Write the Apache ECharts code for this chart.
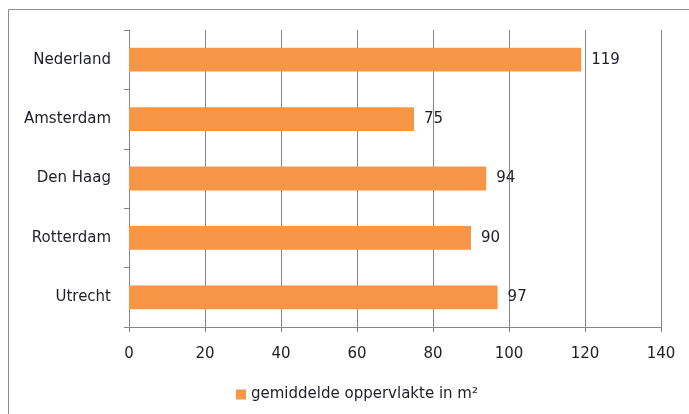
<!DOCTYPE html>
<html><head><meta charset="utf-8">
<script src="https://cdn.jsdelivr.net/npm/echarts@6/dist/echarts.min.js"></script>
<style>html,body{margin:0;padding:0;background:#fff}#c{width:689px;height:414px}</style>
</head><body><div id="c"></div>
<script>
const categories = ['Nederland', 'Amsterdam', 'Den Haag', 'Rotterdam', 'Utrecht'];
const values = [119, 75, 94, 90, 97];
const seriesName = 'gemiddelde oppervlakte in m²';
const xTicks = { min: 0, max: 140, interval: 20 };

const font = 'DejaVu Sans';
const chart = echarts.init(document.getElementById('c'), null, { renderer: 'canvas' });
chart.setOption({
  animation: false,
  backgroundColor: '#fff',
  textStyle: { fontFamily: font },
  graphic: [{
    type: 'rect', shape: { x: 8.5, y: 9.5, width: 700, height: 420 },
    style: { fill: 'none', stroke: '#8c8c8c', lineWidth: 1 }, silent: true
  }],
  grid: { left: 129, right: 28, top: 30, bottom: 87, containLabel: false },
  legend: {
    data: [seriesName], top: 382, left: 231, itemWidth: 10, itemHeight: 10, itemGap: 7,
    icon: 'rect',
    textStyle: { fontFamily: font, fontSize: 15, color: '#1e1e28' }
  },
  xAxis: {
    type: 'value', min: xTicks.min, max: xTicks.max, interval: xTicks.interval,
    axisLine: { show: true, lineStyle: { color: '#868686', width: 1 } },
    axisTick: { show: true, length: 5, lineStyle: { color: '#868686' } },
    splitLine: { show: true, lineStyle: { color: '#868686', width: 1 } },
    axisLabel: { fontFamily: font, fontSize: 15, color: '#1e1e28', margin: 20 }
  },
  yAxis: {
    type: 'category', data: categories, inverse: true,
    axisLine: { show: true, lineStyle: { color: '#868686', width: 1 } },
    axisTick: { show: true, length: 5, alignWithLabel: false, lineStyle: { color: '#868686' } },
    axisLabel: { fontFamily: font, fontSize: 15, color: '#1e1e28', margin: 18 }
  },
  series: [{
    name: seriesName, type: 'bar', data: values, barWidth: '40%',
    itemStyle: { color: '#F79646' },
    label: { show: true, position: 'right', distance: 10, fontFamily: font, fontSize: 15, color: '#1e1e28' }
  }]
});
</script></body></html>
